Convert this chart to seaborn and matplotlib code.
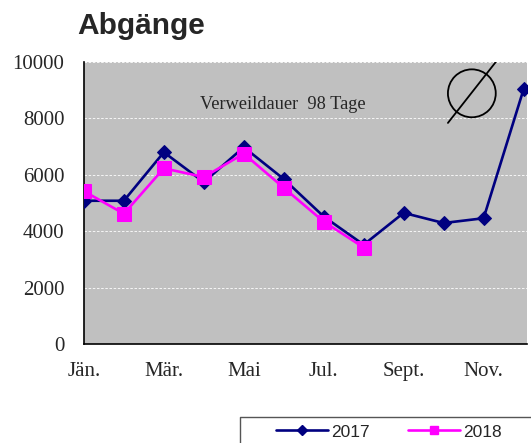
import numpy as np
import matplotlib as mpl
_ = mpl.use('Agg')
import matplotlib.pyplot as plt
import seaborn as sns
import pandas as pd
from matplotlib.patches import Ellipse
from matplotlib.lines import Line2D

# data
months = ['Jän.', 'Feb.', 'Mär.', 'Apr.', 'Mai', 'Jun.', 'Jul.', 'Aug.', 'Sept.', 'Okt.', 'Nov.', 'Dez.']
abg_2017 = [5080, 5080, 6800, 5740, 6980, 5850, 4520, 3520, 4650, 4290, 4460, 9030]
abg_2018 = [5420, 4620, 6230, 5920, 6750, 5540, 4340, 3420]
yticks = [0, 2000, 4000, 6000, 8000, 10000]

df17 = pd.DataFrame({'pos': np.arange(len(abg_2017)), 'wert': abg_2017})
df18 = pd.DataFrame({'pos': np.arange(len(abg_2018)), 'wert': abg_2018})

sns.set_style('white')
fig = plt.figure(figsize=(5.31, 4.43), dpi=100)
ax = fig.add_axes([0.158, 0.2235, 0.834, 0.6365])
ax.set_facecolor('#C0C0C0')

navy = '#000080'
magenta = '#FF00FF'
sns.lineplot(data=df17, x='pos', y='wert', ax=ax, color=navy, linewidth=1.9,
             marker='D', markersize=7.5, markeredgecolor=navy, zorder=3)
sns.lineplot(data=df18, x='pos', y='wert', ax=ax, color=magenta, linewidth=1.9,
             marker='s', markersize=10, markeredgecolor=magenta, zorder=4)

ax.set_xlim(0, 11.08)
ax.set_ylim(0, 10000)
ax.set_yticks(yticks)
ax.set_yticklabels([str(v) for v in yticks], fontfamily='Liberation Serif', fontsize=15)
ax.set_xticks(np.arange(len(months)))
ax.set_xticklabels([m if i % 2 == 0 else '' for i, m in enumerate(months)],
                   fontfamily='Liberation Serif', fontsize=15)
ax.tick_params(axis='both', direction='out', length=6, width=0.8, color='black')
ax.tick_params(axis='y', pad=8)
ax.tick_params(axis='x', pad=7)
ax.set_xlabel('')
ax.set_ylabel('')
for y in yticks[1:]:
    ax.axhline(y, color='white', linestyle=(0, (3, 2)), linewidth=0.6, zorder=1)
for s in ['top', 'right']:
    ax.spines[s].set_visible(False)
for s in ['left', 'bottom']:
    ax.spines[s].set_color('black')
    ax.spines[s].set_linewidth(1.2)

ax.text(0.449, 0.851, 'Verweildauer  98 Tage', transform=ax.transAxes,
        fontfamily='Liberation Serif', fontsize=13.2, ha='center', va='center')

# durchschnitt symbol
ax.add_patch(Ellipse((0.876, 0.889), 0.108, 0.170, transform=ax.transAxes,
                     fill=False, edgecolor='black', linewidth=1.3, zorder=5))
ax.add_line(Line2D([0.822, 0.930], [0.784, 1.0], transform=ax.transAxes,
                   color='black', linewidth=1.3, zorder=5))

fig.text(0.145, 0.941, 'Abgänge', fontfamily='Liberation Sans', fontweight='bold',
         fontsize=21.5, ha='left', va='center')

# legend box runs past the figure edge like in the original: only top and left edge
fig.add_artist(Line2D([0.452, 0.452, 1.1], [-0.1, 0.059, 0.059], transform=fig.transFigure,
                      color='#555555', linewidth=1.0))
handles = [Line2D([], [], color=navy, linewidth=1.9, marker='D', markersize=5),
           Line2D([], [], color=magenta, linewidth=1.9, marker='s', markersize=6)]
leg = fig.legend(handles, ['2017', '2018'], loc='center left', bbox_to_anchor=(0.519, 0.025),
                 ncol=2, frameon=False,
                 prop={'family': 'Liberation Sans', 'size': 12.5}, handlelength=3.0,
                 columnspacing=2.2, borderpad=0, handletextpad=0.2, borderaxespad=0)

fig.savefig('out.png', dpi=100)
